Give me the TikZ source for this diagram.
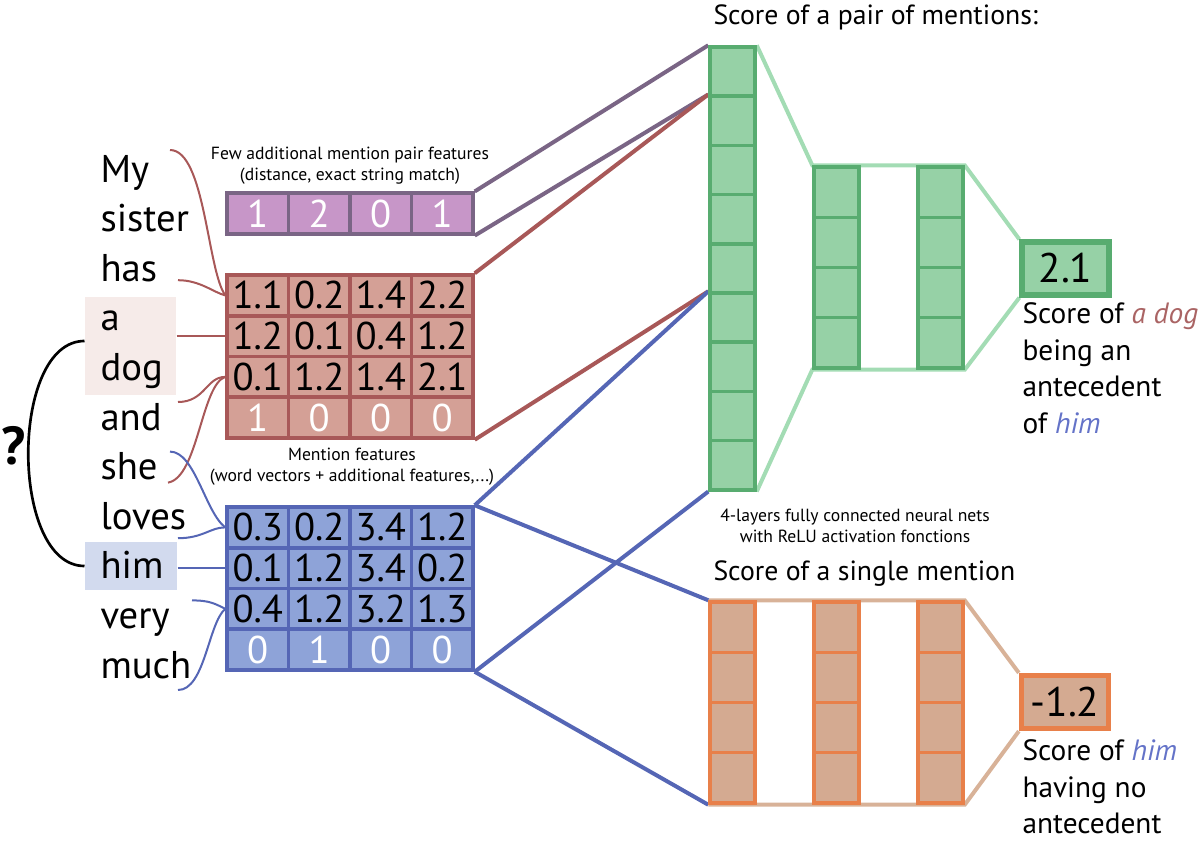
\documentclass[tikz,border=0pt]{standalone}
\usepackage{fontspec}
\setmainfont{PT Sans}
\usetikzlibrary{calc,backgrounds}

\definecolor{pairfill}{RGB}{199,150,200}
\definecolor{pairline}{RGB}{122,101,133}
\definecolor{antfill}{RGB}{212,160,150}
\definecolor{antline}{RGB}{168,88,88}
\definecolor{antital}{RGB}{170,100,100}
\definecolor{anafill}{RGB}{142,163,216}
\definecolor{analine}{RGB}{85,102,181}
\definecolor{anaital}{RGB}{100,115,200}
\definecolor{netfill}{RGB}{150,209,166}
\definecolor{netline}{RGB}{88,172,112}
\definecolor{netframe}{RGB}{163,220,180}
\definecolor{singfill}{RGB}{212,170,145}
\definecolor{singline}{RGB}{232,128,74}
\definecolor{singframe}{RGB}{216,178,152}
\definecolor{dogfill}{RGB}{246,235,233}
\definecolor{himfill}{RGB}{210,218,238}

\tikzset{every picture/.style={line width=0.75pt}}
\tikzset{
  featcell/.style={draw, line width=2.6, minimum width=46.1pt, minimum height=30.5pt, inner sep=0, font=\fontsize{29}{30}\selectfont},
  pairfeat/.style={featcell, fill=pairfill, draw=pairline, text=white},
  antfeat/.style={featcell, fill=antfill, draw=antline},
  anafeat/.style={featcell, fill=anafill, draw=analine},
  featbox/.style={draw, line width=2.6, minimum width=184.5pt, inner sep=0},
  netcell/.style={draw=netline, fill=netfill, line width=2.6, minimum width=33.75pt, minimum height=36.9pt, inner sep=0},
  hidcell/.style={netcell, minimum height=37.7pt},
  singcell/.style={hidcell, draw=singline, fill=singfill},
  score/.style={draw, line width=4, minimum width=65.25pt, minimum height=39.75pt, inner sep=0, font=\fontsize{31}{32}\selectfont},
  word/.style={anchor=base west, inner sep=0, font=\fontsize{29}{30}\selectfont},
  hilite/.style={inner sep=0},
  small/.style={align=center, font=\fontsize{13.2}{15.8}\selectfont},
  title/.style={anchor=base west, inner sep=0, font=\fontsize{20.8}{24}\selectfont},
  caption/.style={anchor=north west, align=left, inner sep=0, font=\fontsize{22}{27.5}\selectfont},
  link/.style={line width=3},
  frame/.style={line width=3},
  brace/.style={line width=1.5},
}

\begin{document}
\begin{tikzpicture}[x=0.75pt,y=0.75pt,yscale=-1,xscale=1]
\useasboundingbox (0,0) rectangle (1200,842);

%Shape: Rectangle
\node[hilite, fill=dogfill, minimum width=68.25pt, minimum height=73.5pt] (hl-dog) at (130.5,346) {};
%Shape: Rectangle
\node[hilite, fill=himfill, minimum width=69pt, minimum height=36pt] (hl-him) at (131,566) {};

% Text Node
\foreach \w/\name [count=\k from 0] in {My/my,sister/sister,has/has,a/a,dog/dog,and/and,she/she,loves/loves,him/him,very/very,much/much}
  \node[word] (w-\name) at (100,{182+49.6*\k}) {\w};

%Shape: pair features
\foreach \v [count=\j] in {1,2,0,1}
  \node[pairfeat] (p-\j) at ({227+61.5*(\j-0.5)},213.5) {\v};
\node[featbox, draw=pairline, minimum height=30.5pt] (pairvec) at (350,213.5) {};

%Shape: antecedent features
\foreach \row [count=\i] in {{1.1,0.2,1.4,2.2},{1.2,0.1,0.4,1.2},{0.1,1.2,1.4,2.1}}
  \foreach \v [count=\j] in \row
    \node[antfeat] (r-\i-\j) at ({227+61.5*(\j-0.5)},{275+40.75*(\i-0.5)}) {\v};
\foreach \v [count=\j] in {1,0,0,0}
  \node[antfeat, text=white] (r-4-\j) at ({227+61.5*(\j-0.5)},{275+40.75*3.5}) {\v};
\node[featbox, draw=antline, minimum height=122.25pt] (antvec) at (350,356.5) {};

%Shape: anaphor features
\foreach \row [count=\i] in {{0.3,0.2,3.4,1.2},{0.1,1.2,3.4,0.2},{0.4,1.2,3.2,1.3}}
  \foreach \v [count=\j] in \row
    \node[anafeat] (b-\i-\j) at ({227+61.5*(\j-0.5)},{507+40.75*(\i-0.5)}) {\v};
\foreach \v [count=\j] in {0,1,0,0}
  \node[anafeat, text=white] (b-4-\j) at ({227+61.5*(\j-0.5)},{507+40.75*3.5}) {\v};
\node[featbox, draw=analine, minimum height=122.25pt] (anavec) at (350,588.5) {};

%Shape: pair network
\foreach \k in {1,...,9}
  \node[netcell] (pairnet-\k) at (732.5,{47+49.2*(\k-0.5)}) {};
\foreach \c/\x in {1/836.5,2/940.5}
  \foreach \k in {1,...,4}
    \node[hidcell] (pairhid-\c-\k) at (\x,{167+50.25*(\k-0.5)}) {};
\node[score, draw=netline, fill=netfill] (pairout) at (1065.5,268.5) {2.1};

%Shape: single network
\foreach \c/\x in {1/732.5,2/836.5,3/940.5}
  \foreach \k in {1,...,4}
    \node[singcell] (single-\c-\k) at (\x,{602+50.25*(\k-0.5)}) {};
\node[score, draw=singline, fill=singfill] (singleout) at (1065,702) {-1.2};

\begin{scope}[on background layer]
%Straight Lines
\draw[frame, draw=netframe] (pairnet-1.north east) -- (pairhid-1-1.north west) -- (pairhid-2-1.north east) -- (pairout.north west);
\draw[frame, draw=netframe] (pairnet-9.south east) -- (pairhid-1-4.south west) -- (pairhid-2-4.south east) -- (pairout.south west);
\draw[frame, draw=singframe] (single-1-1.north west) -- (single-3-1.north east) -- (singleout.north west);
\draw[frame, draw=singframe] (single-1-4.south west) -- (single-3-4.south east) -- (singleout.south west);
%Straight Lines
\draw[link, draw=pairline] (pairvec.north east) -- (pairnet-1.north west);
\draw[link, draw=pairline] (pairvec.south east) -- (pairnet-2.north west);
\draw[link, draw=antline] (antvec.north east) -- (pairnet-2.north west);
\draw[link, draw=antline] (antvec.south east) -- (pairnet-6.north west);
\draw[link, draw=analine] (anavec.north east) -- (pairnet-6.north west);
\draw[link, draw=analine] (anavec.south east) -- (pairnet-9.south west);
\draw[link, draw=analine] (anavec.north east) -- (single-1-1.north west);
\draw[link, draw=analine] (anavec.south east) -- (single-1-4.south west);
\end{scope}

%Curve Lines
\draw[brace, draw=antline] ($(w-my.base west)+(70,-32)$) .. controls +(35,0) and +(-18,-25) .. (r-1-1.west);
\draw[brace, draw=antline] ($(w-has.base west)+(78,-1)$) .. controls +(22,0) and +(-12,-3) .. (r-1-1.west);
\draw[brace, draw=antline] (hl-dog.east |- r-2-1.west) -- (r-2-1.west);
\draw[brace, draw=antline] ($(w-and.base west)+(78,-28)$) .. controls +(27,0) and +(-19,0) .. (r-3-1.west);
\draw[brace, draw=antline] ($(w-she.base west)+(68,3)$) .. controls +(30,-5) and +(-24,8) .. (r-3-1.west);
\draw[brace, draw=analine] ($(w-she.base west)+(70,-28)$) .. controls +(25,0) and +(-20,-15) .. (b-1-1.west);
\draw[brace, draw=analine] ($(w-loves.base west)+(78,9)$) .. controls +(25,0) and +(-15,0) .. (b-1-1.west);
\draw[brace, draw=analine] (hl-him.east |- b-2-1.west) -- (b-2-1.west);
\draw[brace, draw=analine] ($(w-very.base west)+(92,-28)$) .. controls +(18,0) and +(-10,-5) .. (b-3-1.west);
\draw[brace, draw=analine] ($(w-much.base west)+(78,12)$) .. controls +(27,0) and +(-17,14) .. (b-3-1.west);
\draw[line width=2] ($(hl-dog.west)+(0,-5)$) .. controls +(-75,0) and +(-75,0) .. (hl-him.west);

% Text Node
\node[font=\fontsize{40}{42}\selectfont\bfseries] (q) at (14,446) {?};
% Text Node
\node[small] (pairlbl) at (350,166) {Few additional mention pair features\\(distance, exact string match)};
% Text Node
\node[small] (mentlbl) at (352,467) {Mention features\\(word vectors + additional features,...)};
% Text Node
\node[small] (netlbl) at (855,526) {4-layers fully connected neural nets\\with ReLU activation fonctions};
% Text Node
\node[title] (pairttl) at (713,25) {Score of a pair of mentions:};
% Text Node
\node[title] (singttl) at (713,580) {Score of a single mention};
% Text Node
\node[caption] (paircap) at (1022,302) {Score of \textcolor{antital}{\itshape a dog}\\being an\\antecedent\\of \textcolor{anaital}{\itshape him}};
% Text Node
\node[caption] (singcap) at (1022,739) {Score of \textcolor{anaital}{\itshape him}\\having no\\antecedent};

\end{tikzpicture}
\end{document}
